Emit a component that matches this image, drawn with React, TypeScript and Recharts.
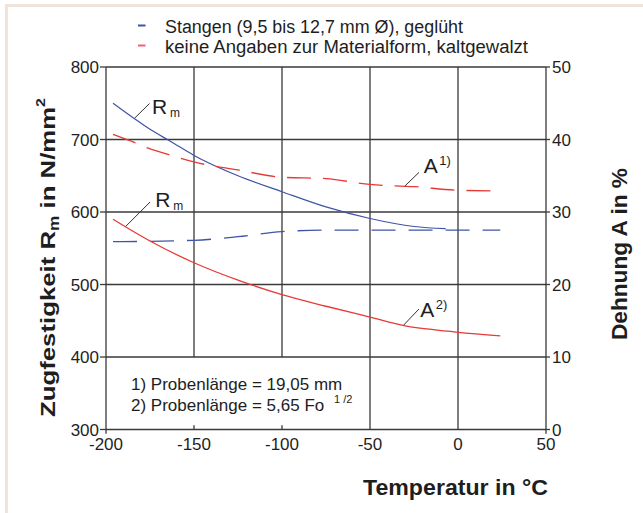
import React from 'react';
import { LineChart, Line, XAxis, YAxis, ReferenceLine, ReferenceDot } from 'recharts';

const FONT = '"Liberation Sans", Arial, Helvetica, sans-serif';
const BLUE = '#3f54a6';
const RED = '#e63a36';
const GRID = '#3a3a3a';
const TXT = '#1e1e1e';

// axis ticks
const tempTicks = [-200, -150, -100, -50, 0, 50];
const rmTicks = [300, 400, 500, 600, 700, 800];
const aTicks = [0, 10, 20, 30, 40, 50];

// Stangen (9,5 bis 12,7 mm Ø), geglüht
const rmStangenTemp = [-196, -184, -175, -163, -150, -125, -100, -75, -50, -25, -7];
const rmStangen = [750, 729, 714, 697, 678, 650, 628, 607, 591, 580, 577];
const aStangenTemp = [-196, -150, -125, -100, -75, -50, 0, 24];
const aStangen = [25.9, 26.1, 26.6, 27.3, 27.5, 27.5, 27.5, 27.5];

// keine Angaben zur Materialform, kaltgewalzt
const rmKaltTemp = [-196, -175, -150, -125, -100, -75, -50, -30, -15, 0, 24];
const rmKalt = [590, 560, 530, 506, 486, 470, 455, 443, 438, 434, 429];
const aKaltTemp = [-196, -183, -176, -163, -150, -125, -100, -75, -50, -25, 0, 24];
const aKalt = [40.7, 39.5, 38.8, 37.8, 36.9, 35.8, 34.8, 34.6, 33.8, 33.5, 33.0, 32.9];

const zip = (ts: number[], vs: number[]) => ts.map((t, i) => ({ t, v: vs[i] }));

const rmStangenData = zip(rmStangenTemp, rmStangen);
const aStangenData = zip(aStangenTemp, aStangen);
const rmKaltData = zip(rmKaltTemp, rmKalt);
const aKaltData = zip(aKaltTemp, aKalt);

const tickStyle = { fontSize: 17, fill: TXT, fontFamily: FONT };

const RmShape = (props: any) => {
  const { cx, cy } = props;
  return (
    <g>
      <text x={cx} y={cy} fontSize={21} fill={TXT} fontFamily={FONT}>R</text>
      <text x={cx + 18} y={cy + 3} fontSize={12} fill={TXT} fontFamily={FONT}>m</text>
    </g>
  );
};

const makeAShape = (sup: string) => (props: any) => {
  const { cx, cy } = props;
  return (
    <g>
      <text x={cx} y={cy} fontSize={21} fill={TXT} fontFamily={FONT}>A</text>
      <text x={cx + 15.5} y={cy - 8} fontSize={13} fill={TXT} fontFamily={FONT}>{sup}</text>
    </g>
  );
};

const NoteShape = (props: any) => {
  const { cx, cy } = props;
  return (
    <g fontFamily={FONT} fill={TXT}>
      <text x={cx} y={cy} fontSize={17}>1) Probenlänge = 19,05 mm</text>
      <text x={cx} y={cy + 20.7} fontSize={17}>2) Probenlänge = 5,65 Fo</text>
      <text x={cx + 203} y={cy + 13} fontSize={11}>1 /2</text>
    </g>
  );
};

const leaders: { a: [number, number]; b: [number, number] }[] = [
  { a: [-183.95, 728.9], b: [-175.3, 749.6] },
  { a: [-189.06, 579.5], b: [-174.9, 613.9] },
  { a: [-30.3, 635.6], b: [-22.2, 654.5] },
  { a: [-31.25, 443.1], b: [-22.2, 466.1] },
];

export default function App() {
  return (
    <div style={{ position: 'absolute', left: 0, top: 0, width: 643, height: 513, background: '#ffffff', overflow: 'hidden' }}>
      <div style={{ position: 'absolute', left: 5, top: 4, width: 638, height: 3, background: '#efe4db' }} />
      <div style={{ position: 'absolute', left: 5, top: 4, width: 3, height: 509, background: '#efe4db' }} />
      <svg style={{ position: 'absolute', left: 0, top: 0 }} width={643} height={60}>
        <line x1={138} x2={145.5} y1={25.5} y2={25.5} stroke={BLUE} strokeWidth={2} />
        <line x1={138} x2={145.5} y1={45.5} y2={45.5} stroke="#f0607e" strokeWidth={2} />
        <text x={165} y={32.7} fontSize={18} fill={TXT} fontFamily={FONT} textLength={298} lengthAdjust="spacingAndGlyphs">
          Stangen (9,5 bis 12,7 mm Ø), geglüht
        </text>
        <text x={165} y={52.7} fontSize={18} fill={TXT} fontFamily={FONT} textLength={363} lengthAdjust="spacingAndGlyphs">
          keine Angaben zur Materialform, kaltgewalzt
        </text>
      </svg>
      <div style={{ position: 'absolute', left: 0, top: 0 }}>
        <LineChart width={643} height={513} margin={{ top: 67, right: 57, bottom: 53.5, left: 66 }}>
          <XAxis
            type="number"
            dataKey="t"
            domain={[-200, 50]}
            ticks={tempTicks}
            allowDataOverflow
            height={30}
            tickLine={false}
            tickSize={0}
            tickMargin={8}
            axisLine={{ stroke: GRID, strokeWidth: 1.3 }}
            tick={tickStyle}
            label={{
              content: () => (
                <text x={455.5} y={495} textAnchor="middle" fontSize={22.5} fontWeight="bold" fill={TXT} fontFamily={FONT} textLength={185} lengthAdjust="spacingAndGlyphs">
                  Temperatur in °C
                </text>
              ),
            }}
          />
          <YAxis
            yAxisId="left"
            type="number"
            domain={[300, 800]}
            ticks={rmTicks}
            width={40}
            tickSize={6}
            tickMargin={1}
            tickLine={{ stroke: GRID, strokeWidth: 1.3 }}
            axisLine={{ stroke: GRID, strokeWidth: 1.3 }}
            tick={tickStyle}
            label={{
              content: () => (
                <text x={54.5} y={257.5} transform="rotate(-90 54.5 257.5)" textAnchor="middle" fontSize={21} fontWeight="bold" fill={TXT} fontFamily={FONT} textLength={319} lengthAdjust="spacingAndGlyphs">
                  Zugfestigkeit R<tspan fontSize={14} dy={4}>m</tspan>
                  <tspan dy={-4}> in N/mm</tspan>
                  <tspan fontSize={13} dy={-10}>2</tspan>
                </text>
              ),
            }}
          />
          <YAxis
            yAxisId="right"
            orientation="right"
            type="number"
            domain={[0, 50]}
            ticks={aTicks}
            width={40}
            tickSize={4}
            tickMargin={2}
            tickLine={{ stroke: GRID, strokeWidth: 1.3 }}
            axisLine={{ stroke: GRID, strokeWidth: 1.3 }}
            tick={tickStyle}
            label={{
              content: () => (
                <text x={626.7} y={254} transform="rotate(-90 626.7 254)" textAnchor="middle" fontSize={22} fontWeight="bold" fill={TXT} fontFamily={FONT} textLength={172} lengthAdjust="spacingAndGlyphs">
                  Dehnung A in %
                </text>
              ),
            }}
          />

          {[400, 500, 600, 700, 800].map((y) => (
            <ReferenceLine key={'h' + y} yAxisId="left" y={y} stroke={GRID} strokeWidth={1.3} />
          ))}
          {[-50, 0].map((x) => (
            <ReferenceLine key={'v' + x} yAxisId="left" x={x} stroke={GRID} strokeWidth={1.3} />
          ))}
          {[-150, -100].map((x) => (
            <ReferenceLine key={'vt' + x} yAxisId="left" segment={[{ x, y: 800 }, { x, y: 400 }]} stroke={GRID} strokeWidth={1.3} />
          ))}
          {[-150, -100].map((x) => (
            <ReferenceLine key={'vb' + x} yAxisId="left" segment={[{ x, y: 306 }, { x, y: 300 }]} stroke={GRID} strokeWidth={1.3} />
          ))}
          {[-200, 50].map((x) => (
            <ReferenceLine key={'ext' + x} yAxisId="left" segment={[{ x, y: 300 }, { x, y: 294 }]} stroke={GRID} strokeWidth={1.3} ifOverflow="visible" />
          ))}

          {leaders.map((l, i) => (
            <ReferenceLine key={'l' + i} yAxisId="left" segment={[{ x: l.a[0], y: l.a[1] }, { x: l.b[0], y: l.b[1] }]} stroke="#333" strokeWidth={1} />
          ))}

          <Line yAxisId="left" data={rmStangenData} dataKey="v" type="monotone" stroke={BLUE} strokeWidth={1.2} dot={false} isAnimationActive={false} />
          <Line yAxisId="right" data={aStangenData} dataKey="v" type="monotone" stroke={BLUE} strokeWidth={1.3} strokeDasharray="24 13" dot={false} isAnimationActive={false} />
          <Line yAxisId="left" data={rmKaltData} dataKey="v" type="monotone" stroke={RED} strokeWidth={1.3} dot={false} isAnimationActive={false} />
          <Line yAxisId="right" data={aKaltData} dataKey="v" type="monotone" stroke={RED} strokeWidth={1.3} strokeDasharray="24 12" dot={false} isAnimationActive={false} />

          <ReferenceDot yAxisId="left" x={-173.9} y={735.8} r={0} shape={RmShape} />
          <ReferenceDot yAxisId="left" x={-172.0} y={607.1} r={0} shape={RmShape} />
          <ReferenceDot yAxisId="left" x={-19.5} y={653.9} r={0} shape={makeAShape('1)')} />
          <ReferenceDot yAxisId="left" x={-21.4} y={455.5} r={0} shape={makeAShape('2)')} />
          <ReferenceDot yAxisId="left" x={-185.8} y={354.4} r={0} shape={NoteShape} />
        </LineChart>
      </div>
    </div>
  );
}
